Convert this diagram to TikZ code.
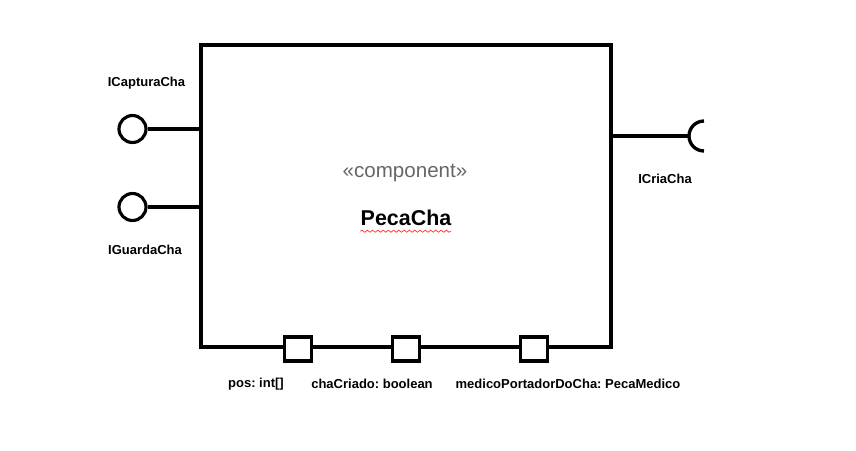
\documentclass[tikz,border=0pt]{standalone}
\usepackage{fontspec}
\setmainfont{Liberation Sans}
\usetikzlibrary{positioning,decorations.pathmorphing}
\definecolor{stereogray}{HTML}{666666}
\frenchspacing
\tikzset{%
	comp/.style     = {draw, rectangle, line width=1.8pt, minimum width=8.2cm, minimum height=6.04cm, inner sep=0pt}, % Component
	lolli/.style    = {draw, circle, line width=1.8pt, minimum size=0.54cm, inner sep=0pt}, % Provided interface
	port/.style     = {draw, rectangle, fill=white, line width=1.8pt, minimum width=0.54cm, minimum height=0.48cm, inner sep=0pt}, % Port
	lbl/.style      = {font=\fontsize{7.4}{9}\selectfont\bfseries, inner sep=0pt}, % Label
	wire/.style     = {line width=1.9pt},
}
\begin{document}
\begin{tikzpicture}[x=0.02cm,y=-0.02cm]
	\useasboundingbox (0,0) rectangle (856,450);
	\node [comp] (C) at (406,196) {};
	\node [font=\fontsize{11.7}{14}\selectfont, text=stereogray] (st) at (405,173) {«component»};
	\node [font=\fontsize{12.2}{14}\selectfont\bfseries, inner sep=0pt] (nm) at (406,218) {PecaCha};
	\draw [red!80, line width=0.4pt, decorate, decoration={snake, amplitude=0.6pt, segment length=3pt}] (nm.south west) ++(0,5) -- ++(91,0);
	
	% provided interfaces
	\node [lolli] (cap) at (132.5,129) {};
	\node [lolli] (gua) at (132.5,207) {};
	\draw [wire] (cap.east) -- (cap.east -| C.west);
	\draw [wire] (gua.east) -- (gua.east -| C.west);
	\node [lbl] (capL) at (146.5,83) {ICapturaCha};
	\node [lbl] (guaL) at (145,250) {IGuardaCha};
	
	% required interface
	\coordinate (sock) at (689,136);
	\draw [wire] (sock -| C.east) -- (sock);
	\draw [wire] ([shift={(0.3cm,0.3cm)}]sock) arc[start angle=90, end angle=270, radius=0.3cm];
	\node [lbl] (criL) at (665,179) {ICriaCha};
	
	% ports
	\node [port] (p1) at (298,349) {};
	\node [port] (p2) at (406,349) {};
	\node [port] (p3) at (534,349) {};
	\node [lbl] (p1L) at (256,384) {pos: int[]};
	\node [lbl] (p2L) at (372,384) {chaCriado: boolean};
	\node [lbl] (p3L) at (568,384) {medicoPortadorDoCha: PecaMedico};
\end{tikzpicture}
\end{document}
